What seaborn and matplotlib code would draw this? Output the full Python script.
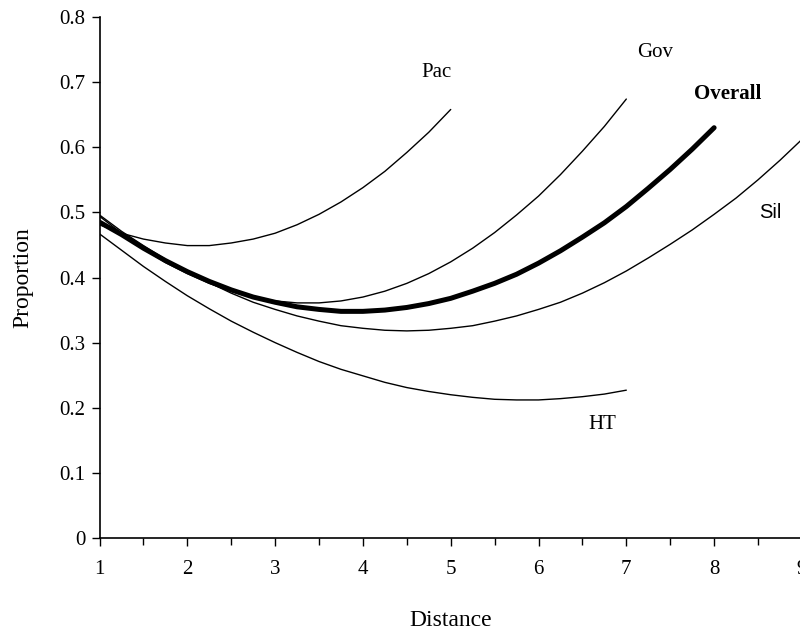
import numpy as np
import pandas as pd
import matplotlib
matplotlib.use("Agg")
import matplotlib.pyplot as plt
import seaborn as sns

# values (every 0.25 on the Distance axis)
x_pac = [1.0, 1.25, 1.5, 1.75, 2.0, 2.25, 2.5, 2.75, 3.0, 3.25, 3.5, 3.75, 4.0, 4.25, 4.5, 4.75, 5.0]
y_pac = [0.481, 0.468, 0.459, 0.453, 0.449, 0.449, 0.453, 0.459, 0.468, 0.481, 0.497, 0.516,
         0.538, 0.563, 0.592, 0.623, 0.658]

x_gov = [1.0, 1.25, 1.5, 1.75, 2.0, 2.25, 2.5, 2.75, 3.0, 3.25, 3.5, 3.75, 4.0,
         4.25, 4.5, 4.75, 5.0, 5.25, 5.5, 5.75, 6.0, 6.25, 6.5, 6.75, 7.0]
y_gov = [0.494, 0.468, 0.444, 0.423, 0.406, 0.391, 0.379, 0.370, 0.364, 0.361, 0.361, 0.364, 0.370,
         0.379, 0.391, 0.406, 0.424, 0.445, 0.469, 0.496, 0.525, 0.558, 0.594, 0.632, 0.674]

x_overall = [1.0, 1.25, 1.5, 1.75, 2.0, 2.25, 2.5, 2.75, 3.0, 3.25, 3.5, 3.75, 4.0, 4.25, 4.5,
             4.75, 5.0, 5.25, 5.5, 5.75, 6.0, 6.25, 6.5, 6.75, 7.0, 7.25, 7.5, 7.75, 8.0]
y_overall = [0.485, 0.466, 0.445, 0.426, 0.409, 0.394, 0.381, 0.370, 0.362, 0.355, 0.351, 0.348,
             0.348, 0.350, 0.354, 0.360, 0.368, 0.379, 0.391, 0.405, 0.422, 0.441, 0.462, 0.484,
             0.509, 0.537, 0.566, 0.597, 0.630]

x_sil = [1.0, 1.25, 1.5, 1.75, 2.0, 2.25, 2.5, 2.75, 3.0, 3.25, 3.5, 3.75, 4.0, 4.25, 4.5,
         4.75, 5.0, 5.25, 5.5, 5.75, 6.0, 6.25, 6.5, 6.75, 7.0, 7.25, 7.5, 7.75, 8.0, 8.25,
         8.5, 8.75, 9.0]
y_sil = [0.496, 0.471, 0.449, 0.428, 0.409, 0.392, 0.376, 0.362, 0.351, 0.341, 0.333, 0.326,
         0.322, 0.319, 0.318, 0.319, 0.322, 0.326, 0.333, 0.341, 0.351, 0.362, 0.376, 0.392,
         0.410, 0.430, 0.451, 0.473, 0.497, 0.522, 0.550, 0.580, 0.612]

x_ht = [1.0, 1.25, 1.5, 1.75, 2.0, 2.25, 2.5, 2.75, 3.0, 3.25, 3.5, 3.75, 4.0,
        4.25, 4.5, 4.75, 5.0, 5.25, 5.5, 5.75, 6.0, 6.25, 6.5, 6.75, 7.0]
y_ht = [0.467, 0.442, 0.417, 0.394, 0.372, 0.352, 0.333, 0.316, 0.300, 0.285, 0.271, 0.259, 0.249,
        0.239, 0.231, 0.225, 0.220, 0.216, 0.213, 0.212, 0.212, 0.214, 0.217, 0.221, 0.227]

x_ticks = [1, 2, 3, 4, 5, 6, 7, 8, 9]
y_ticks = [0, 0.1, 0.2, 0.3, 0.4, 0.5, 0.6, 0.7, 0.8]
y_ticklabels = ["0", "0.1", "0.2", "0.3", "0.4", "0.5", "0.6", "0.7", "0.8"]

sns.set_style("ticks")
plt.rcParams['font.family'] = ['Liberation Serif', 'DejaVu Serif']
plt.rcParams['text.color'] = 'black'
plt.rcParams['axes.labelcolor'] = 'black'

fig = plt.figure(figsize=(8, 6.34), dpi=100)
ax = fig.add_axes([0.1244, 0.1514, 0.878, 0.8218])

series = [
    (x_pac, y_pac, 1.0),
    (x_gov, y_gov, 1.0),
    (x_sil, y_sil, 1.0),
    (x_ht, y_ht, 1.0),
    (x_overall, y_overall, 3.6),
]
for xs, ys, lw in series:
    sns.lineplot(x=xs, y=ys, ax=ax, color='black', linewidth=lw, sort=False)

ax.set_xlim(1, 9)
ax.set_ylim(0, 0.8)
ax.set_xticks(x_ticks)
ax.set_xticks(np.arange(1.5, 9, 1.0), minor=True)
ax.set_yticks(y_ticks)
ax.set_yticklabels(y_ticklabels)
ax.tick_params(axis='both', which='major', direction='out', length=6, width=1,
               color='black', labelsize=15, labelcolor='black')
ax.tick_params(axis='x', which='minor', direction='out', length=5, width=1, color='black')
ax.tick_params(axis='x', which='major', pad=10)
ax.tick_params(axis='y', which='major', pad=4)

for side in ['top', 'right']:
    ax.spines[side].set_visible(False)
for side in ['left', 'bottom']:
    ax.spines[side].set_color('black')
    ax.spines[side].set_linewidth(1.2)

ax.set_xlabel('Distance', fontsize=17, labelpad=22, color='black')
ax.set_ylabel('Proportion', fontsize=17, labelpad=19, color='black')

# curve labels
ax.text(4.84, 0.715, 'Pac', fontsize=15, ha='center', va='center')
ax.text(7.33, 0.746, 'Gov', fontsize=15, ha='center', va='center')
ax.text(8.16, 0.682, 'Overall', fontsize=15, fontweight='bold', ha='center', va='center')
ax.text(8.64, 0.50, 'Sil', fontsize=14.5, ha='center', va='center', family=['Liberation Sans'])
ax.text(6.73, 0.174, 'HT', fontsize=15, ha='center', va='center')

fig.savefig('out.png', dpi=100)
